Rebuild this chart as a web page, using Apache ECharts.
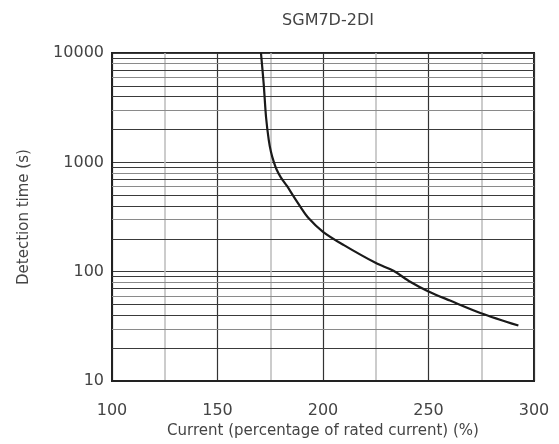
<!DOCTYPE html>
<html>
<head>
<meta charset="utf-8">
<script src="https://cdn.jsdelivr.net/npm/echarts@6/dist/echarts.min.js"></script>
<style>
html,body{margin:0;padding:0;background:#fff;}
#chart{width:559px;height:444px;}
</style>
</head>
<body>
<div id="chart"></div>
<script>
var titleText = 'SGM7D-2DI';
var xName = 'Current (percentage of rated current) (%)';
var yName = 'Detection time (s)';
var currents = [170.6, 171.9, 173.0, 174.3, 175.3, 176.6, 178.0, 180.0, 183.0, 186.0, 189.0, 193.0, 200.0, 209.7, 225.1, 233.4, 241.3, 250.0, 260.2, 274.9, 292.6];
var times    = [10000, 5200, 2600, 1600, 1260, 1020, 860, 730, 605, 490, 400, 312, 232, 176, 120, 102, 81, 66, 54.5, 41.8, 32.2];
var minorMultipliers = [2, 3, 4, 5, 6, 7, 8, 9];
var minorDark = [true, false, true, true, false, true, false, true];
var decades = [10, 100, 1000];

var curveData = currents.map(function (c, i) { return [c, times[i]]; });
var minorLines = [];
decades.forEach(function (d) {
  minorMultipliers.forEach(function (m, i) {
    minorLines.push({
      yAxis: d * m,
      lineStyle: { color: minorDark[i] ? '#3a3a3a' : '#8a8a8a', width: 1, type: 'solid' }
    });
  });
});

var chart = echarts.init(document.getElementById('chart'), null, { renderer: 'canvas' });
var textFont = 'DejaVu Sans, Liberation Sans, sans-serif';
chart.setOption({
  animation: false,
  backgroundColor: '#fff',
  title: {
    text: titleText,
    left: 323, top: 8, textAlign: 'center',
    textStyle: { fontFamily: textFont, fontSize: 16, fontWeight: 'normal', color: '#444' }
  },
  grid: {
    left: 112, right: 25, top: 53, bottom: 62,
    show: true, borderColor: '#222', borderWidth: 2, backgroundColor: 'transparent'
  },
  xAxis: {
    type: 'value', min: 100, max: 300, interval: 50,
    name: xName, nameLocation: 'middle', nameGap: 36,
    nameTextStyle: { fontFamily: textFont, fontSize: 15, color: '#444' },
    axisLine: { show: true, onZero: false, lineStyle: { color: '#222', width: 2 } },
    axisTick: { show: false },
    axisLabel: { fontFamily: textFont, fontSize: 16, color: '#444', margin: 22 },
    splitLine: { show: true, lineStyle: { color: '#333', width: 1.2 } },
    minorTick: { show: false, splitNumber: 2 },
    minorSplitLine: { show: true, lineStyle: { color: '#bcbcbc', width: 1.5 } }
  },
  yAxis: {
    type: 'log', logBase: 10, min: 10, max: 10000,
    name: yName, nameLocation: 'middle', nameGap: 80, nameRotate: 90,
    nameTextStyle: { fontFamily: textFont, fontSize: 15, color: '#444' },
    axisLine: { show: true, lineStyle: { color: '#222', width: 2 } },
    axisTick: { show: false },
    axisLabel: {
      fontFamily: textFont, fontSize: 16, color: '#444', margin: 8,
      formatter: function (v) { return String(Math.round(v)); }
    },
    splitLine: { show: true, lineStyle: { color: '#3a3a3a', width: 1 } }
  },
  series: [{
    type: 'line',
    data: curveData,
    smooth: 0.3,
    showSymbol: false,
    symbol: 'none',
    lineStyle: { color: '#1a1a1a', width: 2.2 },
    z: 5,
    markLine: {
      silent: true,
      symbol: ['none', 'none'],
      label: { show: false },
      animation: false,
      data: minorLines,
      z: 1
    }
  }]
});
</script>
</body>
</html>
